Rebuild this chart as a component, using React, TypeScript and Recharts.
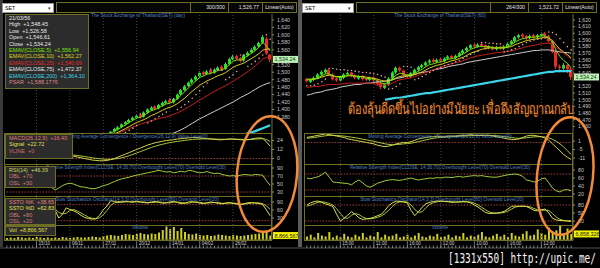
import React from 'react'
import { ComposedChart, Bar, Line, XAxis, YAxis, ReferenceLine } from 'recharts'

// 72 bars per window, left = daily, right = 60 min
const N = 72

const leftTickIdx = [8, 17, 26, 35, 44, 52, 61]
const leftTickLabels = ['15/10', '06/11', '27/11', '20/12', '14/01', '04/02', '26/02']
const rightTickIdx = [9, 18, 27, 36, 45, 54, 63]
const rightTickLabels = ['15:00', '11:00', '16:00', '12:00', '10:00', '16:00', '12:00']

// ---- left (daily) price, visible from bar 28 on ----
const LEFT_PRICE_START = 28
const leftOpen = [1334, 1341, 1347, 1353, 1361, 1366, 1372, 1378, 1386, 1381, 1392, 1399, 1408, 1403, 1411, 1417, 1425, 1419, 1429, 1441, 1452, 1463, 1472, 1480, 1489, 1500, 1495, 1505, 1499, 1506, 1515, 1509, 1522, 1535, 1543, 1538, 1531, 1545, 1553, 1560, 1569, 1579, 1590, 1546.61]
const leftHigh = [1343, 1351, 1356, 1363, 1369, 1375, 1381, 1387, 1389, 1395, 1403, 1409, 1411, 1415, 1421, 1426, 1428, 1431, 1443, 1455, 1466, 1475, 1484, 1492, 1502, 1503, 1506, 1508, 1510, 1516, 1518, 1526, 1539, 1546, 1547, 1541, 1549, 1556, 1564, 1572, 1582, 1600, 1594, 1548.45]
const leftLow = [1330, 1338, 1343, 1350, 1357, 1363, 1369, 1375, 1376, 1378, 1389, 1396, 1398, 1400, 1408, 1414, 1414, 1416, 1426, 1438, 1449, 1460, 1469, 1477, 1486, 1490, 1492, 1494, 1496, 1503, 1504, 1506, 1519, 1532, 1533, 1526, 1528, 1542, 1550, 1557, 1566, 1576, 1546, 1526.58]
const leftClose = [1340, 1348, 1352, 1360, 1366, 1372, 1378, 1383, 1380, 1392, 1400, 1405, 1402, 1412, 1418, 1422, 1418, 1428, 1440, 1452, 1462, 1472, 1480, 1488, 1498, 1494, 1502, 1498, 1506, 1512, 1508, 1522, 1535, 1542, 1536, 1530, 1545, 1552, 1560, 1568, 1578, 1594, 1550, 1534.24]
const leftEma5 = [1336, 1342, 1347, 1353, 1359, 1365, 1371, 1377, 1379, 1384, 1391, 1397, 1400, 1405, 1410, 1415, 1417, 1422, 1429, 1438, 1448, 1458, 1468, 1477, 1486, 1490, 1495, 1497, 1500, 1505, 1506, 1512, 1520, 1529, 1533, 1533, 1538, 1544, 1551, 1558, 1567, 1580, 1570, 1557]
const leftEma10 = [1330, 1335, 1339, 1344, 1349, 1354, 1360, 1365, 1369, 1373, 1378, 1384, 1388, 1393, 1398, 1403, 1406, 1410, 1416, 1423, 1431, 1440, 1449, 1457, 1465, 1471, 1477, 1481, 1486, 1491, 1494, 1499, 1506, 1513, 1518, 1521, 1525, 1531, 1537, 1543, 1550, 1559, 1562, 1562]
const leftEma25 = [1330, 1333, 1337, 1341, 1345, 1349, 1353, 1357, 1361, 1364, 1367, 1370, 1373, 1376, 1378, 1380, 1383, 1387, 1391, 1396, 1401, 1407, 1413, 1419, 1425, 1431, 1437, 1443, 1449, 1454, 1459, 1464, 1470, 1476, 1482, 1488, 1495, 1502, 1509, 1517, 1526, 1535, 1540, 1538]
const LEFT_EMA75_START = 40
const leftEma75 = [1318, 1322, 1326, 1330, 1334, 1337, 1341, 1346, 1351, 1357, 1363, 1369, 1375, 1380, 1385, 1390, 1395, 1400, 1405, 1410, 1415, 1420, 1426, 1432, 1437, 1442, 1448, 1454, 1460, 1465, 1469, 1472]
const LEFT_EMA200_START = 64
const leftEma200 = [1333, 1336, 1339, 1342, 1346, 1350, 1354, 1358]
const leftPsar = [1318, 1322, 1327, 1332, 1338, 1344, 1350, 1357, 1388, 1388, 1364, 1369, 1375, 1381, 1387, 1393, 1428, 1428, 1400, 1406, 1413, 1421, 1430, 1440, 1450, 1461, 1471, 1508, 1507, 1506, 1505, 1480, 1486, 1493, 1502, 1546, 1545, 1516, 1522, 1529, 1537, 1546, 1600, 1588.18]

// ---- left indicators (all 72 bars) ----
const leftMacd = [10, 10, 9.5, 9, 9, 8.5, 8, 7.5, 7, 6.5, 6, 6, 5.5, 5, 5, 4.5, 4, 4, 3, 2, 1, 0, -1, -2, -2.5, -3, -3, -2.5, -1.5, 0, 2, 4, 6, 8, 10, 12, 14, 16, 18, 19.5, 21, 22, 23, 24, 24.5, 25, 26, 26.5, 27, 27.5, 28, 28, 27.5, 27, 26.5, 26, 25.5, 25, 25, 25.5, 26, 26, 25.5, 25, 24.5, 25, 26, 27, 27.5, 27, 22, 16.4]
const leftSignal = [11, 11, 10.8, 10.5, 10.2, 9.8, 9.4, 9, 8.6, 8.2, 7.8, 7.4, 7, 6.6, 6.2, 5.8, 5.4, 5, 4.6, 4, 3.4, 2.6, 1.8, 1, 0.3, -0.3, -0.8, -1, -1, -0.6, 0, 1, 2.3, 3.8, 5.5, 7.3, 9.2, 11, 13, 14.8, 16.4, 17.8, 19, 20.2, 21.2, 22, 22.8, 23.5, 24.2, 24.8, 25.4, 25.8, 26, 26.2, 26.2, 26.1, 26, 25.8, 25.6, 25.6, 25.7, 25.8, 25.7, 25.6, 25.4, 25.3, 25.4, 25.8, 26.2, 26.4, 25.4, 22.72]
const leftRsi = [60, 58, 62, 57, 55, 58, 54, 52, 56, 50, 48, 45, 42, 35, 40, 46, 50, 52, 50, 46, 43, 42, 40, 38, 39, 42, 46, 48, 52, 56, 60, 63, 65, 67, 70, 72, 74, 76, 78, 80, 82, 84, 82, 80, 81, 78, 80, 82, 80, 84, 83, 80, 78, 79, 81, 78, 76, 77, 74, 72, 70, 71, 69, 72, 74, 73, 72, 74, 73, 72, 58, 46.39]
const leftK = [70, 75, 80, 72, 60, 55, 62, 70, 78, 82, 75, 68, 64, 60, 30, 45, 68, 62, 57, 50, 40, 32, 28, 26, 27, 40, 60, 75, 95, 92, 88, 90, 93, 91, 89, 92, 90, 88, 86, 90, 92, 89, 85, 87, 90, 92, 88, 84, 86, 90, 91, 89, 86, 84, 87, 90, 88, 85, 83, 86, 88, 85, 82, 80, 84, 87, 88, 86, 85, 80, 60, 38.65]
const leftD = [68, 71, 75, 76, 71, 62, 59, 62, 70, 77, 78, 75, 69, 64, 51, 45, 48, 58, 62, 56, 49, 41, 33, 29, 27, 31, 42, 58, 77, 87, 92, 90, 90, 91, 91, 91, 90, 90, 88, 88, 89, 90, 89, 87, 87, 90, 90, 88, 86, 86, 89, 90, 89, 86, 86, 87, 88, 88, 85, 85, 86, 86, 85, 82, 82, 84, 86, 87, 86, 84, 75, 62.83]
const leftVol = [4, 5, 4, 6, 5, 4, 5, 4, 6, 5, 4, 5, 4, 5, 4, 6, 5, 4, 5, 6, 5, 5, 6, 7, 6, 5, 8, 9, 10, 9, 8, 10, 12, 11, 10, 12, 14, 12, 11, 13, 12, 15, 20, 27, 22, 26, 18, 24, 16, 12, 11, 13, 10, 9, 10, 8, 9, 11, 10, 9, 8, 10, 9, 8, 9, 10, 11, 12, 13, 14, 16, 8.87]

// ---- right (60 min) price ----
const rightOpen = [1531, 1527, 1530, 1533, 1538, 1541, 1545, 1538, 1532, 1529, 1533, 1538, 1541, 1536, 1532, 1536, 1532, 1530, 1534, 1529, 1525, 1518, 1523, 1532, 1541, 1548, 1544, 1538, 1535, 1540, 1545, 1549, 1552, 1556, 1560, 1557, 1561, 1558, 1562, 1566, 1563, 1566, 1570, 1574, 1578, 1583, 1580, 1584, 1582, 1578, 1580, 1576, 1580, 1577, 1580, 1584, 1588, 1594, 1598, 1596, 1593, 1597, 1594, 1597, 1600, 1596, 1588, 1572, 1550, 1547, 1552, 1546]
const rightHigh = [1533, 1532, 1535, 1540, 1544, 1547, 1546, 1540, 1533, 1536, 1540, 1542, 1542, 1538, 1537, 1537, 1533, 1535, 1535, 1531, 1526, 1525, 1534, 1543, 1550, 1550, 1545, 1539, 1542, 1547, 1551, 1554, 1558, 1561, 1562, 1562, 1563, 1564, 1567, 1567, 1568, 1572, 1576, 1580, 1584, 1585, 1585, 1586, 1583, 1582, 1581, 1581, 1581, 1582, 1586, 1590, 1596, 1599, 1600, 1597, 1598, 1599, 1599, 1601, 1602, 1598, 1590, 1574, 1553, 1555, 1554, 1548]
const rightLow = [1526, 1525, 1528, 1531, 1536, 1539, 1536, 1529, 1527, 1527, 1531, 1536, 1534, 1531, 1530, 1529, 1528, 1528, 1527, 1521, 1516, 1516, 1521, 1530, 1539, 1542, 1535, 1532, 1533, 1538, 1543, 1547, 1550, 1554, 1555, 1555, 1556, 1556, 1560, 1561, 1561, 1564, 1568, 1572, 1576, 1578, 1578, 1579, 1575, 1576, 1574, 1574, 1575, 1575, 1578, 1582, 1586, 1592, 1593, 1590, 1591, 1592, 1592, 1595, 1594, 1586, 1570, 1546, 1541, 1545, 1540, 1530]
const rightClose = [1528, 1530, 1533, 1538, 1542, 1545, 1538, 1531, 1529, 1534, 1538, 1540, 1536, 1533, 1535, 1531, 1530, 1533, 1529, 1524, 1519, 1523, 1532, 1541, 1548, 1544, 1537, 1535, 1540, 1545, 1549, 1552, 1556, 1559, 1557, 1560, 1558, 1562, 1565, 1563, 1566, 1570, 1574, 1578, 1582, 1580, 1583, 1581, 1578, 1580, 1576, 1579, 1577, 1580, 1584, 1588, 1594, 1597, 1595, 1593, 1596, 1594, 1597, 1599, 1596, 1588, 1572, 1550, 1548, 1552, 1546, 1534.24]
const rightEma5 = [1530, 1530, 1531, 1533, 1536, 1539, 1539, 1536, 1534, 1534, 1535, 1537, 1537, 1535, 1535, 1534, 1532, 1532, 1531, 1529, 1525, 1524, 1527, 1532, 1537, 1540, 1539, 1537, 1538, 1540, 1543, 1546, 1550, 1553, 1554, 1556, 1557, 1559, 1561, 1562, 1563, 1566, 1569, 1572, 1576, 1578, 1580, 1580, 1580, 1580, 1578, 1578, 1578, 1579, 1580, 1583, 1587, 1590, 1592, 1593, 1594, 1594, 1595, 1596, 1596, 1593, 1586, 1574, 1565, 1559, 1555, 1548]
const rightEma10 = [1531, 1531, 1531, 1532, 1534, 1536, 1537, 1536, 1535, 1535, 1535, 1536, 1536, 1536, 1535, 1535, 1534, 1533, 1532, 1531, 1529, 1528, 1528, 1530, 1533, 1535, 1536, 1536, 1536, 1538, 1540, 1542, 1545, 1548, 1550, 1552, 1553, 1555, 1557, 1559, 1560, 1562, 1564, 1567, 1570, 1572, 1574, 1576, 1577, 1578, 1578, 1578, 1578, 1578, 1579, 1580, 1583, 1585, 1587, 1589, 1590, 1591, 1592, 1593, 1594, 1593, 1589, 1582, 1576, 1572, 1568, 1563]
const rightEma25 = [1519, 1519, 1520, 1520, 1521, 1522, 1523, 1523, 1523, 1524, 1524, 1525, 1525, 1525, 1525, 1525, 1525, 1525, 1524, 1523, 1522, 1522, 1523, 1525, 1528, 1530, 1531, 1532, 1533, 1535, 1537, 1539, 1541, 1543, 1545, 1547, 1549, 1551, 1553, 1554, 1556, 1557, 1559, 1561, 1563, 1565, 1566, 1567, 1568, 1569, 1570, 1571, 1571, 1572, 1573, 1574, 1575, 1577, 1578, 1580, 1581, 1582, 1583, 1584, 1585, 1585, 1583, 1579, 1574, 1570, 1566, 1561]
const rightEma75 = [1507, 1508, 1510, 1511, 1512, 1514, 1515, 1516, 1517, 1519, 1520, 1521, 1522, 1523, 1523, 1524, 1525, 1525, 1526, 1527, 1527, 1528, 1529, 1530, 1532, 1533, 1534, 1536, 1537, 1538, 1540, 1541, 1542, 1543, 1545, 1546, 1547, 1548, 1550, 1551, 1552, 1553, 1554, 1556, 1557, 1558, 1559, 1560, 1561, 1562, 1563, 1564, 1565, 1566, 1567, 1568, 1569, 1570, 1571, 1572, 1573, 1574, 1574, 1575, 1575, 1575, 1574, 1573, 1572, 1571, 1571, 1570]
const RIGHT_EMA200_START = 21
const rightEma200 = [1500, 1501, 1502, 1503, 1503, 1504, 1505, 1506, 1507, 1508, 1509, 1510, 1510, 1511, 1512, 1513, 1514, 1515, 1516, 1517, 1518, 1519, 1520, 1521, 1522, 1523, 1524, 1525, 1526, 1527, 1528, 1529, 1530, 1531, 1532, 1533, 1534, 1535, 1536, 1537, 1538, 1539, 1540, 1541, 1542, 1542, 1543, 1543, 1543, 1543, 1543]
const rightPsar = [1521, 1521, 1522, 1524, 1527, 1531, 1547, 1547, 1546, 1545, 1545, 1544, 1544, 1543, 1542, 1541, 1541, 1540, 1539, 1538, 1536, 1534, 1516, 1517, 1520, 1524, 1550, 1550, 1549, 1530, 1532, 1535, 1538, 1541, 1544, 1547, 1549, 1551, 1553, 1555, 1557, 1559, 1562, 1565, 1568, 1571, 1573, 1586, 1586, 1585, 1585, 1584, 1584, 1572, 1573, 1575, 1577, 1580, 1583, 1586, 1588, 1590, 1591, 1592, 1593, 1602, 1601, 1598, 1592, 1586, 1580, 1575]

// ---- right indicators ----
const rightMacd = [3.5, 4, 4.5, 5, 5.5, 6, 5.5, 5, 4.5, 4, 3.5, 2.5, 2, 1.5, 1, 0.5, 0, -0.5, -1, -2, -2.5, -3, -2.5, -2, -1, -0.5, 0, 0, 0.5, 1.5, 2.5, 3, 3.5, 4, 4, 4.5, 4, 4, 4.5, 4.5, 4.5, 5, 5, 5, 5.5, 5, 5, 5, 5, 5, 4.5, 4, 3.5, 3, 2.5, 2, 2, 2.5, 3.5, 4.5, 5, 5, 4.5, 4, 3, 1.5, -1, -3.5, -6, -8.5, -10.5, -12]
const rightSignal = [3, 3.2, 3.5, 3.9, 4.3, 4.7, 5, 5, 4.9, 4.7, 4.5, 4.1, 3.7, 3.3, 2.8, 2.3, 1.8, 1.3, 0.8, 0.2, -0.4, -1, -1.4, -1.6, -1.5, -1.3, -1, -0.8, -0.5, 0, 0.6, 1.2, 1.8, 2.4, 2.9, 3.3, 3.5, 3.7, 3.9, 4, 4.2, 4.4, 4.5, 4.6, 4.8, 4.9, 4.9, 5, 5, 5, 4.9, 4.7, 4.4, 4.1, 3.8, 3.4, 3.1, 2.9, 3, 3.3, 3.6, 3.9, 4, 4, 3.8, 3.2, 2.2, 0.8, -1, -3.2, -5.8, -8.5]
const rightRsi = [60, 58, 61, 63, 68, 75, 62, 50, 49, 48, 47, 46, 43, 50, 55, 48, 40, 37, 42, 47, 50, 53, 55, 56, 55, 54, 56, 58, 60, 57, 55, 57, 58, 60, 59, 61, 60, 62, 62, 61, 63, 64, 62, 64, 65, 66, 65, 66, 64, 63, 62, 62, 64, 66, 68, 69, 70, 68, 64, 55, 53, 50, 52, 58, 60, 48, 35, 28, 25, 30, 31, 28]
const rightK = [80, 88, 93, 95, 90, 84, 80, 74, 45, 20, 30, 42, 55, 45, 32, 26, 28, 30, 34, 40, 45, 60, 78, 88, 95, 93, 91, 88, 60, 40, 55, 72, 85, 90, 93, 95, 95, 93, 92, 90, 91, 92, 93, 92, 88, 80, 72, 62, 52, 48, 49, 50, 52, 56, 65, 75, 76, 75, 76, 74, 68, 60, 58, 62, 65, 50, 30, 24, 22, 21, 20, 19]
const rightD = [75, 80, 85, 90, 92, 90, 86, 80, 66, 48, 32, 30, 42, 48, 44, 35, 29, 28, 30, 34, 39, 48, 60, 75, 87, 92, 93, 91, 80, 63, 52, 55, 70, 82, 89, 92, 94, 94, 93, 92, 91, 91, 92, 92, 91, 87, 80, 71, 62, 54, 50, 49, 50, 52, 57, 65, 72, 75, 75, 75, 73, 67, 62, 60, 61, 59, 48, 35, 26, 22, 21, 20]
const rightVol = [4, 6, 3, 8, 5, 4, 9, 3, 5, 3, 7, 4, 3, 6, 4, 8, 3, 5, 4, 9, 3, 6, 4, 5, 7, 3, 4, 6, 3, 5, 8, 4, 3, 5, 4, 7, 3, 4, 6, 3, 5, 4, 8, 3, 5, 4, 6, 9, 4, 3, 5, 7, 4, 6, 3, 8, 5, 4, 7, 10, 5, 6, 12, 8, 6, 14, 9, 11, 16, 8, 13, 6.86]

const FONT = "'Liberation Sans', Arial, sans-serif"
const C = {
  olive: '#6e6e24', grid: '#464646', axisText: '#c6c6c6', title: '#5080c8',
  up: '#28e028', down: '#f02828', ema5: '#78e000', ema10: '#d8d020', ema25: '#c81e1e',
  ema75: '#cfcfcf', ema200: '#3cd4e8', psar: '#e4a0a0', macd: '#d4d44c', signal: '#a8c83c',
  level: '#a03838', rsi: '#a0cc3c', k: '#e0e04c', d: '#a8c43c', vol: '#d0d020',
}

const pick = (arr: number[], start: number, i: number) =>
  i >= start && i - start < arr.length ? arr[i - start] : null

type Src = {
  priceStart: number; open: number[]; high: number[]; low: number[]; close: number[]
  e5: number[]; e10: number[]; e25: number[]; e75: number[]; e75Start: number
  e200: number[]; e200Start: number; psar: number[]
  macd: number[]; signal: number[]; rsi: number[]; k: number[]; d: number[]; vol: number[]
}

function buildRows(s: Src) {
  return Array.from({ length: N }, (_, i) => {
    const o = pick(s.open, s.priceStart, i)
    const h = pick(s.high, s.priceStart, i)
    const l = pick(s.low, s.priceStart, i)
    const c = pick(s.close, s.priceStart, i)
    return {
      i,
      range: o == null ? null : [l, h],
      open: o, high: h, low: l, close: c,
      e5: pick(s.e5, s.priceStart, i),
      e10: pick(s.e10, s.priceStart, i),
      e25: pick(s.e25, s.priceStart, i),
      e75: pick(s.e75, s.e75Start, i),
      e200: pick(s.e200, s.e200Start, i),
      psar: pick(s.psar, s.priceStart, i),
      macd: s.macd[i], signal: s.signal[i], rsi: s.rsi[i], k: s.k[i], d: s.d[i], vol: s.vol[i],
    }
  })
}

const leftRows = buildRows({
  priceStart: LEFT_PRICE_START, open: leftOpen, high: leftHigh, low: leftLow, close: leftClose,
  e5: leftEma5, e10: leftEma10, e25: leftEma25, e75: leftEma75, e75Start: LEFT_EMA75_START,
  e200: leftEma200, e200Start: LEFT_EMA200_START, psar: leftPsar,
  macd: leftMacd, signal: leftSignal, rsi: leftRsi, k: leftK, d: leftD, vol: leftVol,
})
const rightRows = buildRows({
  priceStart: 0, open: rightOpen, high: rightHigh, low: rightLow, close: rightClose,
  e5: rightEma5, e10: rightEma10, e25: rightEma25, e75: rightEma75, e75Start: 0,
  e200: rightEma200, e200Start: RIGHT_EMA200_START, psar: rightPsar,
  macd: rightMacd, signal: rightSignal, rsi: rightRsi, k: rightK, d: rightD, vol: rightVol,
})

const Candle = (props: any) => {
  const { x, y, width, height, payload } = props
  if (!payload || payload.open == null) return null
  const { open, close, high, low } = payload
  const top = Math.min(y, y + height)
  const h = Math.abs(height)
  const toPx = (v: number) => top + ((high - v) / (high - low)) * h
  const color = close >= open ? C.up : C.down
  const bTop = toPx(Math.max(open, close))
  const bBot = toPx(Math.min(open, close))
  const bx = Math.round(x)
  const w = Math.max(2, Math.round(width))
  return (
    <g>
      <rect x={bx + Math.floor(w / 2)} y={top} width={1} height={h} fill={color} />
      <rect x={bx} y={bTop} width={w} height={Math.max(1, bBot - bTop)} fill={color} />
    </g>
  )
}

const Tag = ({ viewBox, text, bg, fg }: any) => {
  if (!viewBox) return null
  const x = viewBox.x + viewBox.width + 1
  const y = viewBox.y
  return (
    <g>
      <rect x={x} y={y - 3.5} width={25} height={7} fill={bg} />
      <text x={x + 1.5} y={y + 2} fontSize={5.4} fill={fg}>{text}</text>
    </g>
  )
}

const fmt = (v: number) => v.toLocaleString('en-US')
const yTick = { fontSize: 5.2, fill: C.axisText }

const makeXTick = (idx: number[], labels: string[]) => (props: any) => {
  const { x, y, payload } = props
  const k = idx.indexOf(payload.value)
  return (
    <g>
      <line x1={x} x2={x} y1={y + 5.5} y2={y + 8} stroke="#9a9a9a" strokeWidth={0.8} />
      {k >= 0 && <line x1={x} x2={x} y1={y} y2={y + 8} stroke="#8a8a8a" strokeWidth={0.8} />}
      {k >= 0 && (
        <text x={x + 2} y={y + 5.3} fontSize={4.6} fill="#d0d0d0">{labels[k]}</text>
      )}
    </g>
  )
}

type PaneCfg = {
  left: number; width: number; rows: any[]
  priceDomain: number[]; priceTicks: number[]; lastPrice: number
  macdDomain: number[]; macdTicks: number[]
  rsiDomain: number[]; rsiTicks: number[]
  stochDomain: number[]; stochTicks: number[]
  volDomain: number[]; lastVol: number; volText: string
  tickIdx: number[]; tickLabels: string[]
}

const M = { top: 0, right: 0, bottom: 0, left: 0 }

function Indicator({ cfg, top, height, domain, ticks, levels, lines }: any) {
  return (
    <div style={{ position: 'absolute', left: cfg.left, top }}>
      <ComposedChart width={cfg.width} height={height} data={cfg.rows} margin={M}>
        <XAxis dataKey="i" hide scale="band" />
        <YAxis orientation="right" width={26} domain={domain} ticks={ticks} interval={0}
          allowDataOverflow tick={yTick} tickSize={2} tickMargin={3}
          tickLine={{ stroke: '#888' }} axisLine={{ stroke: C.olive }} />
        {cfg.tickIdx.map((t: number) => (
          <ReferenceLine key={'g' + t} x={t} stroke={C.grid} strokeDasharray="1 2" />
        ))}
        {levels.map((l: number) => (
          <ReferenceLine key={'l' + l} y={l} stroke={C.level} strokeDasharray="1.5 1.5" />
        ))}
        {lines.map((l: any) => (
          <Line key={l.key} dataKey={l.key} stroke={l.color} strokeWidth={1} dot={false}
            type="linear" isAnimationActive={false} />
        ))}
      </ComposedChart>
    </div>
  )
}

function Pane({ cfg }: { cfg: PaneCfg }) {
  const plotW = cfg.width - 26
  const frame = (top: number, h: number) => (
    <div style={{
      position: 'absolute', left: cfg.left - 1, top, width: plotW + 1, height: h,
      border: `1px solid ${C.olive}`, boxSizing: 'border-box', pointerEvents: 'none',
    }} />
  )
  return (
    <>
      <div style={{ position: 'absolute', left: cfg.left, top: 14 }}>
        <ComposedChart width={cfg.width} height={119} data={cfg.rows} margin={M}>
          <XAxis dataKey="i" hide scale="band" />
          <YAxis orientation="right" width={26} domain={cfg.priceDomain} ticks={cfg.priceTicks}
            interval={0} allowDataOverflow tick={yTick} tickSize={2} tickMargin={3}
            tickLine={{ stroke: '#888' }} axisLine={{ stroke: C.olive }} tickFormatter={fmt} />
          {cfg.tickIdx.map((t) => (
            <ReferenceLine key={t} x={t} stroke={C.grid} strokeDasharray="1 2" />
          ))}
          <Line dataKey="e200" stroke={C.ema200} strokeWidth={2.2} dot={false} isAnimationActive={false} />
          <Line dataKey="e75" stroke={C.ema75} strokeWidth={1} dot={false} isAnimationActive={false} />
          <Line dataKey="e25" stroke={C.ema25} strokeWidth={1} dot={false} isAnimationActive={false} />
          <Bar dataKey="range" barSize={3} shape={Candle} isAnimationActive={false} />
          <Line dataKey="e10" stroke={C.ema10} strokeWidth={1} dot={false} isAnimationActive={false} />
          <Line dataKey="e5" stroke={C.ema5} strokeWidth={1} dot={false} isAnimationActive={false} />
          <Line dataKey="psar" stroke="none" strokeWidth={0} isAnimationActive={false}
            dot={{ r: 0.8, fill: C.psar, stroke: 'none' }} />
          <ReferenceLine y={cfg.lastPrice} stroke="none"
            label={<Tag text={fmt(cfg.lastPrice)} bg="#bff2b8" fg="#0a3a0a" />} />
        </ComposedChart>
      </div>
      <Indicator cfg={cfg} top={133} height={31} domain={cfg.macdDomain} ticks={cfg.macdTicks}
        levels={[0]} lines={[{ key: 'signal', color: C.signal }, { key: 'macd', color: C.macd }]} />
      <Indicator cfg={cfg} top={164} height={32} domain={cfg.rsiDomain} ticks={cfg.rsiTicks}
        levels={[70, 30]} lines={[{ key: 'rsi', color: C.rsi }]} />
      <Indicator cfg={cfg} top={196} height={29} domain={cfg.stochDomain} ticks={cfg.stochTicks}
        levels={[80, 20]} lines={[{ key: 'd', color: C.d }, { key: 'k', color: C.k }]} />
      <div style={{ position: 'absolute', left: cfg.left, top: 225 }}>
        <ComposedChart width={cfg.width} height={23} data={cfg.rows} margin={M}>
          <XAxis dataKey="i" scale="band" height={8} interval={0} tickLine={false} tickSize={0}
            tickMargin={0} axisLine={{ stroke: C.olive }} tick={makeXTick(cfg.tickIdx, cfg.tickLabels)} />
          <YAxis orientation="right" width={26} domain={cfg.volDomain} tick={false} tickLine={false}
            axisLine={{ stroke: C.olive }} />
          {cfg.tickIdx.map((t) => (
            <ReferenceLine key={t} x={t} stroke={C.grid} strokeDasharray="1 2" />
          ))}
          <Bar dataKey="vol" fill={C.vol} barSize={2} isAnimationActive={false} />
          <ReferenceLine y={cfg.lastVol} stroke="none"
            label={<Tag text={cfg.volText} bg="#f2f200" fg="#202000" />} />
        </ComposedChart>
      </div>
      {frame(133, 32)}
      {frame(164, 33)}
      {frame(196, 30)}
      {frame(225, 16)}
    </>
  )
}

const leftCfg: PaneCfg = {
  left: 5, width: 293, rows: leftRows,
  priceDomain: [1337, 1656], priceTicks: [1380, 1400, 1420, 1440, 1460, 1480, 1500, 1520, 1560, 1580, 1600, 1620, 1640], lastPrice: 1534.24,
  macdDomain: [-7.3, 34], macdTicks: [0, 12, 24],
  rsiDomain: [20, 100], rsiTicks: [30, 50, 70, 90],
  stochDomain: [3.75, 112.5], stochTicks: [30, 60, 90],
  volDomain: [0, 30], lastVol: 8.87, volText: '8,866,567',
  tickIdx: leftTickIdx, tickLabels: leftTickLabels,
}
const rightCfg: PaneCfg = {
  left: 305, width: 294, rows: rightRows,
  priceDomain: [1450, 1629], priceTicks: [1460, 1470, 1480, 1490, 1500, 1510, 1520, 1540, 1550, 1560, 1570, 1580, 1590, 1600, 1610, 1620], lastPrice: 1534.24,
  macdDomain: [-15.2, 6.65], macdTicks: [-11, -5, 1],
  rsiDomain: [15, 95], rsiTicks: [20, 40, 60, 80],
  stochDomain: [5, 113.75], stochTicks: [20, 50, 80],
  volDomain: [0, 17], lastVol: 6.86, volText: '6,858,326',
  tickIdx: rightTickIdx, tickLabels: rightTickLabels,
}

const abs = (s: React.CSSProperties): React.CSSProperties => ({ position: 'absolute', ...s })

function Header({ x, count, price }: { x: number; count: string; price: string }) {
  const t: React.CSSProperties = { fontSize: 5.2, color: '#e0e0e0', lineHeight: '10px' }
  return (
    <>
      <div style={abs({ left: x + 2, top: 3, width: 52, height: 10, background: '#fff', border: '1px solid #999', boxSizing: 'border-box' })}>
        <span style={{ ...t, color: '#000', position: 'absolute', left: 2, top: -1 }}>SET</span>
        <span style={{ ...t, color: '#333', position: 'absolute', right: 2, top: -1 }}>▾</span>
      </div>
      <div style={abs({ left: x + 56, top: 2, width: 241, height: 11, border: `1px solid ${C.olive}`, boxSizing: 'border-box', background: '#060606' })} />
      {[x + 190, x + 228, x + 262].map((v) => (
        <div key={v} style={abs({ left: v, top: 2, width: 1, height: 11, background: C.olive })} />
      ))}
      <div style={abs({ ...t, left: x + 190, top: 2, width: 35, textAlign: 'right' })}>{count}</div>
      <div style={abs({ ...t, left: x + 228, top: 2, width: 31, textAlign: 'right' })}>{price}</div>
      <div style={abs({ ...t, left: x + 262, top: 2, width: 35, textAlign: 'center' })}>Linear(Auto)</div>
    </>
  )
}

function Title({ cx, y, text }: { cx: number; y: number; text: string }) {
  return (
    <div style={abs({ left: cx - 150, top: y - 3, width: 300, textAlign: 'center', fontSize: 4.8, lineHeight: '6px', color: C.title, whiteSpace: 'nowrap' })}>
      {text}
    </div>
  )
}

function LegendBox({ left, top, width, height, rows }: any) {
  return (
    <div style={abs({ left, top, width, height, background: '#2c2c2c', border: `1px solid ${C.olive}`, boxSizing: 'border-box', padding: '0 3px' })}>
      {rows.map((r: any, k: number) => (
        <div key={k} style={{ fontSize: 5.5, lineHeight: '6.4px', color: r[1], whiteSpace: 'pre' }}>{r[0]}</div>
      ))}
    </div>
  )
}

const MACD_T = 'Moving Average Convergence / Divergence(26,12,9) Value Level(0)'
const RSI_T = 'Relative Strength Index(CLOSE, 14,30,70) Overbought Level(70) Oversold Level(30)'
const STO_T = 'Slow Stochastics Oscillator(14,3,3) Overbought Level(80) Oversold Level(20)'

export default function App() {
  return (
    <div style={{ position: 'relative', width: 600, height: 268, background: '#000', overflow: 'hidden', fontFamily: FONT }}>
      <style>{'body{margin:0;background:#000}'}</style>
      <div style={abs({ left: 0, top: 0, width: 3, height: 248, background: '#3a3a3a' })} />
      <div style={abs({ left: 298, top: 0, width: 4, height: 248, background: '#5c5c5c' })} />
      <div style={abs({ left: 0, top: 247, width: 600, height: 2, background: '#2a2a2a' })} />

      <Header x={0} count="300/300" price="1,526.77" />
      <Header x={300} count="264/300" price="1,521.72" />

      <Pane cfg={leftCfg} />
      <Pane cfg={rightCfg} />

      <Title cx={138} y={16} text="The Stock Exchange of Thailand(SET) (day)" />
      <Title cx={440} y={16} text="The Stock Exchange of Thailand(SET) (60)" />
      <Title cx={136} y={136.5} text={MACD_T} />
      <Title cx={136} y={168} text={RSI_T} />
      <Title cx={137} y={200} text={STO_T} />
      <Title cx={140} y={228} text="Volume" />
      <Title cx={440} y={136.5} text={MACD_T} />
      <Title cx={440} y={167.5} text={RSI_T} />
      <Title cx={442} y={199.5} text={STO_T} />
      <Title cx={440} y={228} text="Volume" />

      <LegendBox left={5} top={14} width={84} height={75} rows={[
        ['21/03/56', '#e8e8e8'], ['High  +1,548.45', '#e8e8e8'], ['Low  +1,526.58', '#e8e8e8'],
        ['Open  +1,546.61', '#e8e8e8'], ['Close  +1,534.24', '#e8e8e8'],
        ['EMAV(CLOSE,5)  +1,556.94', C.ema5], ['EMAV(CLOSE,10)  +1,562.27', C.ema10],
        ['EMAV(CLOSE,25)  +1,540.69', '#e02828'], ['EMAV(CLOSE,75)  +1,472.37', '#e8e8e8'],
        ['EMAV(CLOSE,200)  +1,364.10', C.ema200], ['PSAR  +1,588.1776', '#d88a8a'],
      ]} />
      <LegendBox left={5} top={134} width={68} height={25} rows={[
        ['MACD(26,12,9)  +16.40', '#e07a7a'], ['Signal  +22.72', '#e0e050'], ['VLINE  +0', '#d86a6a'],
      ]} />
      <LegendBox left={5} top={166} width={51} height={22} rows={[
        ['RSI(14)  +46.39', '#c8d860'], ['OBL  +70', '#d87a7a'], ['OSL  +30', '#d87a7a'],
      ]} />
      <LegendBox left={5} top={198} width={51} height={27} rows={[
        ['SSTO %K  +38.65', '#e08080'], ['SSTO %D  +62.83', '#e0e050'], ['OBL  +80', '#d87a7a'], ['OSL  +20', '#d87a7a'],
      ]} />
      <LegendBox left={5} top={226} width={51} height={10} rows={[['Vol  +8,866,567', '#e0e040']]} />

      <svg width={600} height={268} style={abs({ left: 0, top: 0, pointerEvents: 'none' })}>
        <text x={348} y={114} fontSize={14.5} textLength={226} lengthAdjust="spacingAndGlyphs"
          fill="#e5883a" stroke="#2a1200" strokeWidth={1.2} paintOrder="stroke"
          fontFamily="'Noto Sans', 'DejaVu Sans', sans-serif">
          ต้องลุ้นดีดขึ้นไปอย่างมีนัยยะ เพื่อดึงสัญญาณกลับ
        </text>
        <ellipse cx={267} cy={174} rx={30} ry={58} fill="none" stroke="#f28a3a" strokeWidth={2.5} transform="rotate(5 267 174)" />
        <ellipse cx={565} cy={176} rx={28} ry={59} fill="none" stroke="#f28a3a" strokeWidth={2.5} transform="rotate(6 565 176)" />
        <text x={448} y={263} fontSize={13.5} textLength={148} lengthAdjust="spacingAndGlyphs"
          fill="#f4f4f4" fontFamily="'DejaVu Sans Mono', monospace">
          [1331x550] http://upic.me/
        </text>
      </svg>
    </div>
  )
}
